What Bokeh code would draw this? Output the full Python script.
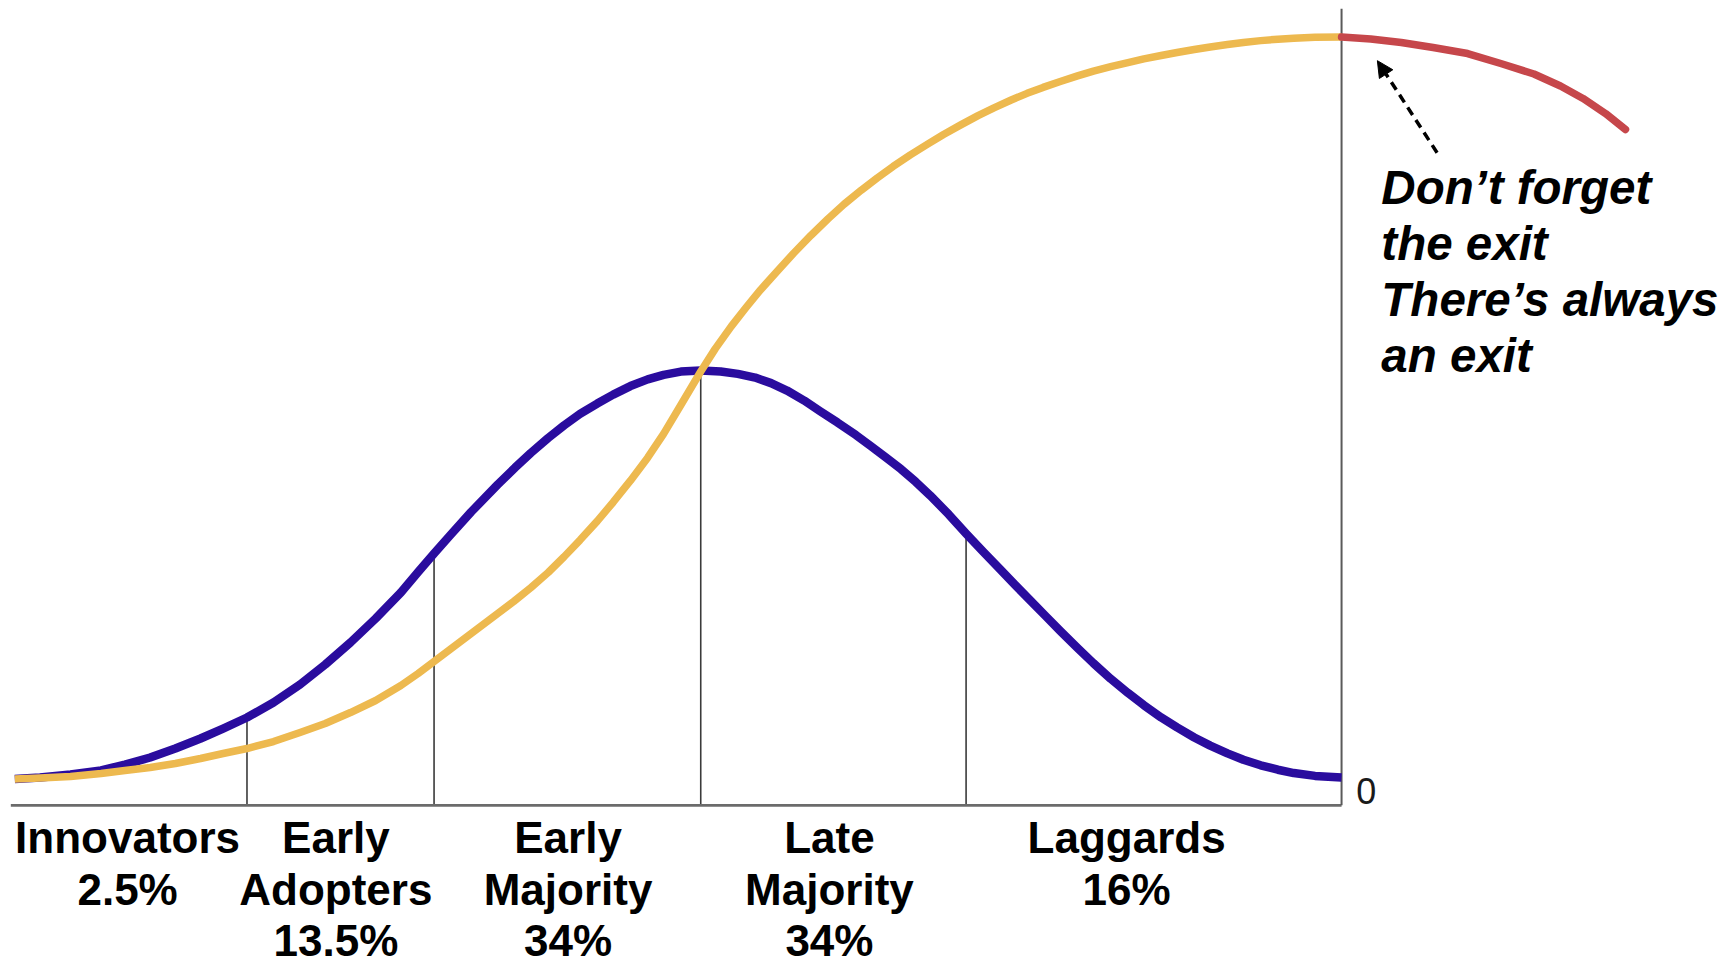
import numpy as np
from bokeh.plotting import figure
from bokeh.models import ColumnDataSource, Range1d, Arrow, NormalHead
from bokeh.core.properties import value
from bokeh.embed import file_html
from bokeh.resources import INLINE

# ---- data ----------------------------------------------------------------
# x: time (0 = start of the curves, 100 = the vertical axis)
# y: share of the maximum (0 = baseline "0", 100 = saturation)
adoption_x = [0.0, 1.9, 4.2, 6.5, 8.3, 10.2, 12.1, 14.0, 15.7, 17.5, 19.5, 21.5,
              23.4, 25.3, 27.2, 29.1, 30.4, 31.6, 32.8, 34.4, 36.4, 37.7, 38.9,
              40.2, 41.4, 42.6, 43.9, 45.1, 46.4, 47.7, 48.9, 50.2, 51.7, 53.2,
              54.5, 55.8, 57.0, 58.2, 59.5, 60.7, 62.0, 63.4, 64.5, 65.6, 66.8,
              67.9, 69.0, 70.4, 71.7, 73.0, 74.3, 75.4, 76.6, 77.7, 78.8, 80.1,
              81.3, 82.6, 83.9, 85.1, 86.4, 87.6, 88.9, 90.1, 91.4, 92.6, 93.9,
              95.2, 96.4, 98.0, 100.0]
adoption_y = [0.0, 0.2, 0.61, 1.15, 1.95, 2.9, 4.11, 5.46, 6.8, 8.29, 10.31, 12.73,
              15.43, 18.39, 21.63, 25.13, 27.9, 30.39, 32.81, 36.0, 39.68, 41.95,
              43.95, 45.95, 47.65, 49.2, 50.6, 51.8, 52.95, 53.85, 54.45, 54.9,
              55.05, 54.92, 54.6, 54.1, 53.35, 52.35, 51.0, 49.55, 48.05, 46.35,
              44.9, 43.4, 41.75, 40.05, 38.2, 35.64, 33.08, 30.6, 28.2, 26.15,
              23.95, 21.95, 19.95, 17.65, 15.6, 13.5, 11.6, 9.95, 8.3, 6.95,
              5.6, 4.5, 3.45, 2.6, 1.85, 1.25, 0.8, 0.42, 0.2]

cumulative_x = [0.0, 1.9, 4.2, 6.5, 8.3, 10.2, 12.1, 14.0, 15.7, 17.5, 19.5, 21.5,
                23.4, 25.3, 27.2, 29.1, 30.4, 31.6, 32.8, 33.8, 35.1, 36.4, 37.6,
                38.9, 40.2, 41.4, 42.6, 43.9, 45.1, 46.4, 47.7, 48.9, 50.2, 51.7,
                52.8, 54.0, 55.1, 56.2, 57.5, 58.7, 60.0, 61.3, 62.5, 63.8, 65.0,
                66.2, 67.5, 68.8, 70.0, 71.3, 72.6, 73.8, 75.1, 76.3, 77.5, 78.8,
                80.1, 81.3, 82.6, 83.9, 85.1, 86.4, 87.6, 88.9, 90.1, 91.4, 92.6,
                93.9, 95.2, 96.4, 98.0, 100.0]
cumulative_y = [0.0, 0.13, 0.34, 0.74, 1.15, 1.55, 2.09, 2.76, 3.44, 4.11, 5.05, 6.27,
                7.48, 8.96, 10.58, 12.6, 14.22, 15.83, 17.45, 18.8, 20.55, 22.3, 23.92,
                25.8, 27.83, 29.95, 32.2, 34.75, 37.3, 40.2, 43.3, 46.5, 50.4,
                54.92, 58.0, 61.0, 63.5, 65.9, 68.5, 70.85, 73.25, 75.5, 77.45,
                79.35, 81.0, 82.55, 84.1, 85.55, 86.85, 88.15, 89.4, 90.45, 91.5,
                92.4, 93.2, 94.0, 94.75, 95.4, 96.0, 96.55, 97.05, 97.5, 97.9,
                98.3, 98.65, 98.97, 99.25, 99.5, 99.7, 99.83, 99.95, 100.0]

exit_x = [100.0, 102.2, 104.5, 106.9, 109.5, 112.0, 114.5, 116.5, 118.2, 119.9, 121.4]
exit_y = [100.0, 99.72, 99.26, 98.58, 97.76, 96.42, 95.01, 93.39, 91.71, 89.68, 87.53]

segment_bounds = [17.5, 31.6, 51.7, 71.7]
segment_labels = [["Innovators", "2.5%"],
                  ["Early", "Adopters", "13.5%"],
                  ["Early", "Majority", "34%"],
                  ["Late", "Majority", "34%"],
                  ["Laggards", "16%"]]
axis_zero_label = "0"
note_lines = ["Don\u2019t forget", "the exit", "There\u2019s always", "an exit"]

# ---- layout ---------------------------------------------------------------
label_centers = [8.5, 24.2, 41.7, 61.4, 83.8]
label_first_baseline = -7.9
label_step = 6.95
note_left = 103.0
note_first_baseline = 79.7
note_step = 7.55
axis_y = -3.55
axis_top = 103.8

BLUE = "#2A0C9E"
GOLD = "#EDB94F"
RED = "#C6474B"

p = figure(width=1729, height=967,
           x_range=Range1d(-1.078, 129.24), y_range=Range1d(-25.40, 104.91),
           output_backend="svg", toolbar_location=None,
           x_axis_type=None, y_axis_type=None, min_border=0,
           outline_line_color=None, background_fill_color="white")

# divider lines from the baseline up to the bell curve
div_top = np.interp(segment_bounds, adoption_x, adoption_y)
p.segment(x0=segment_bounds, y0=[axis_y] * len(segment_bounds),
          x1=segment_bounds, y1=list(div_top), line_color="#3a3a3a", line_width=1.6)

# axes
p.line(x=[-0.3, 100.0], y=[axis_y, axis_y], line_color="#6b6b6b", line_width=2.6)
p.line(x=[100.0, 100.0], y=[axis_y, axis_top], line_color="#5a5a5a", line_width=2.0)

# curves
p.line(x=adoption_x, y=adoption_y, line_color=BLUE, line_width=8.5, line_join="round")
p.line(x=cumulative_x, y=cumulative_y, line_color=GOLD, line_width=7.5, line_join="round")
p.line(x=exit_x, y=exit_y, line_color=RED, line_width=7.5, line_join="round", line_cap="round")

# category labels below the axis
lx, ly, lt = [], [], []
for cx, lines in zip(label_centers, segment_labels):
    for i, t in enumerate(lines):
        lx.append(cx)
        ly.append(label_first_baseline - i * label_step)
        lt.append(t)
p.text(x="x", y="y", text="t", source=ColumnDataSource(dict(x=lx, y=ly, t=lt)),
       text_font=value("Liberation Sans"), text_font_style="bold",
       text_font_size="44px", text_align="center", text_baseline="alphabetic",
       text_color="black")

# zero label on the vertical axis
p.text(x=[101.1], y=[-1.6], text=[axis_zero_label],
       text_font=value("Liberation Sans"), text_font_size="36px",
       text_align="left", text_baseline="alphabetic", text_color="#1a1a1a")

# note
p.text(x=[note_left] * len(note_lines),
       y=[note_first_baseline - i * note_step for i in range(len(note_lines))],
       text=note_lines, text_font=value("Liberation Sans"),
       text_font_style="bold italic", text_font_size="47.5px",
       text_align="left", text_baseline="alphabetic", text_color="black")

# dashed arrow pointing at the start of the exit curve
p.add_layout(Arrow(end=NormalHead(size=16, fill_color="black", line_color="black"),
                   x_start=107.2, y_start=84.4, x_end=102.7, y_end=96.8,
                   line_color="black", line_width=3.5, line_dash="9 6"))

open("out.html", "w").write(file_html(p, INLINE))
